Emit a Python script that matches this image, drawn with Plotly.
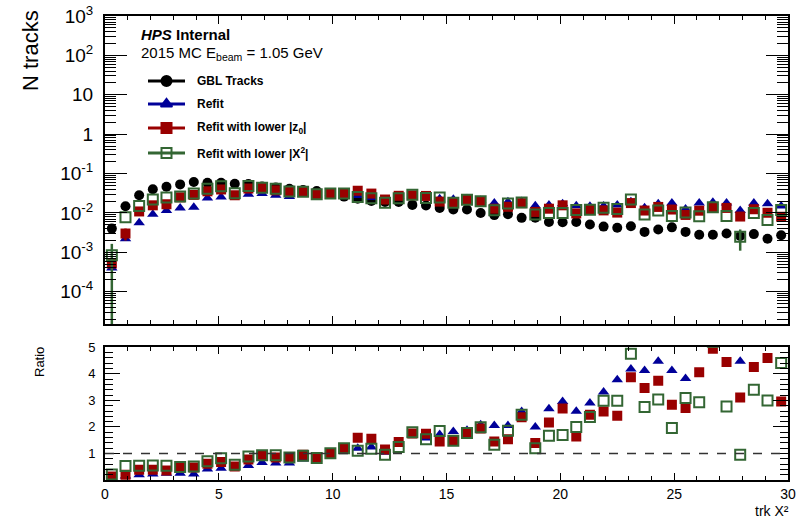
import plotly.graph_objects as go

# ---------------- data ----------------
bin_centers = [0.3, 0.9, 1.5, 2.1, 2.7, 3.3, 3.9, 4.5, 5.1, 5.7,
               6.3, 6.9, 7.5, 8.1, 8.7, 9.3, 9.9, 10.5, 11.1, 11.7,
               12.3, 12.9, 13.5, 14.1, 14.7, 15.3, 15.9, 16.5, 17.1, 17.7,
               18.3, 18.9, 19.5, 20.1, 20.7, 21.3, 21.9, 22.5, 23.1, 23.7,
               24.3, 24.9, 25.5, 26.1, 26.7, 27.3, 27.9, 28.5, 29.1, 29.7]

gbl = [0.0040, 0.0148, 0.028, 0.040, 0.046, 0.053, 0.061, 0.058, 0.058, 0.055,
       0.054, 0.047, 0.044, 0.041, 0.038, 0.036, 0.031, 0.026, 0.023, 0.020,
       0.019, 0.019, 0.016, 0.0155, 0.0134, 0.0122, 0.0122, 0.0100, 0.0088, 0.0093,
       0.0075, 0.0076, 0.0059, 0.0058, 0.0059, 0.0051, 0.0045, 0.0042, 0.0046, 0.0033,
       0.0038, 0.0043, 0.0033, 0.0028, 0.0028, 0.0030, 0.0026, 0.0029, 0.0022, 0.0027]

refit = [0.00040, 0.0022, 0.0056, 0.0092, 0.0115, 0.0133, 0.0140, 0.0238, 0.0255, 0.0264,
         0.0297, 0.0310, 0.0282, 0.0262, 0.0300, 0.0288, 0.0310, 0.0281, 0.0276, 0.0248,
         0.0200, 0.0260, 0.0275, 0.0245, 0.0229, 0.0223, 0.0228, 0.0208, 0.0180, 0.0191,
         0.0194, 0.0152, 0.0158, 0.0172, 0.0153, 0.0148, 0.0149, 0.0159, 0.0192, 0.0136,
         0.0170, 0.0178, 0.0126, 0.0180, 0.0187, 0.0180, 0.0116, 0.0180, 0.0170, 0.0150]

refit_z0 = [0.00052, 0.0030, 0.0109, 0.0156, 0.0166, 0.0249, 0.0287, 0.0354, 0.0394, 0.0281,
            0.0416, 0.0442, 0.0374, 0.0344, 0.0361, 0.0295, 0.0313, 0.0307, 0.0366, 0.0310,
            0.0219, 0.0272, 0.0280, 0.0270, 0.0194, 0.0182, 0.0216, 0.0194, 0.0128, 0.0143,
            0.0177, 0.0106, 0.0128, 0.0156, 0.0097, 0.0125, 0.0116, 0.0102, 0.0178, 0.0115,
            0.0142, 0.0122, 0.0089, 0.0114, 0.0139, 0.0134, 0.0081, 0.0124, 0.0101, 0.0080]

refit_chi2 = [0.00084, 0.0078, 0.0151, 0.0220, 0.0248, 0.0260, 0.0311, 0.0412, 0.0476, 0.0314,
              0.0481, 0.0437, 0.0409, 0.0349, 0.0346, 0.0299, 0.0313, 0.0312, 0.0253, 0.0236,
              0.0181, 0.0236, 0.0288, 0.0239, 0.0248, 0.0181, 0.0216, 0.0199, 0.0117, 0.0173,
              0.0185, 0.0091, 0.0099, 0.0099, 0.0118, 0.0121, 0.0135, 0.0126, 0.0219, 0.0091,
              0.0115, 0.0084, 0.0102, 0.0082, 0.0140, 0.0083, 0.0025, 0.0099, 0.0066, 0.0119]

z0_err = [0.0, 0.0010] + [0.0] * 48
chi2_err_up = [0.0008] + [0.0] * 45 + [0.0013] + [0.0] * 3
chi2_err_down = [0.00083999] + [0.0] * 45 + [0.0014] + [0.0] * 3

ratio_refit = [0.10, 0.15, 0.20, 0.23, 0.25, 0.25, 0.23, 0.41, 0.44, 0.48,
               0.55, 0.66, 0.64, 0.64, 0.79, 0.80, 1.00, 1.08, 1.20, 1.24,
               1.05, 1.37, 1.72, 1.58, 1.71, 1.83, 1.87, 2.08, 2.05, 2.05,
               2.58, 2.00, 2.68, 2.96, 2.59, 2.90, 3.32, 3.78, 4.18, 4.13,
               4.47, 4.13, 3.82, 6.4, 6.7, 6.0, 4.47, 6.2, 7.7, 5.6]

ratio_z0 = [0.13, 0.20, 0.39, 0.39, 0.36, 0.47, 0.47, 0.61, 0.68, 0.51,
            0.77, 0.94, 0.85, 0.84, 0.95, 0.82, 1.01, 1.18, 1.59, 1.55,
            1.15, 1.43, 1.75, 1.74, 1.45, 1.49, 1.77, 1.94, 1.45, 1.54,
            2.36, 1.39, 2.17, 2.69, 1.64, 2.46, 2.58, 2.42, 3.87, 3.47,
            3.74, 2.84, 2.71, 4.06, 4.95, 4.45, 3.11, 4.26, 4.60, 2.96]

ratio_chi2 = [0.21, 0.53, 0.54, 0.55, 0.54, 0.49, 0.51, 0.71, 0.82, 0.57,
              0.89, 0.93, 0.93, 0.85, 0.91, 0.83, 1.01, 1.20, 1.10, 1.18,
              0.95, 1.24, 1.80, 1.54, 1.85, 1.48, 1.77, 1.99, 1.33, 1.86,
              2.46, 1.20, 1.67, 1.70, 2.00, 2.37, 2.99, 2.99, 4.76, 2.75,
              3.03, 1.96, 3.09, 2.93, 5.2, 2.77, 0.95, 3.40, 3.00, 4.41]

series_names = ["GBL Tracks", "Refit", "Refit with lower |z<sub>0</sub>|",
                "Refit with lower |Χ<sup>2</sup>|"]

top_tickvals = [1e-4, 1e-3, 1e-2, 1e-1, 1, 10, 100, 1000]
top_ticktext = ["10<sup>-4</sup>", "10<sup>-3</sup>", "10<sup>-2</sup>", "10<sup>-1</sup>",
                "1", "10", "10<sup>2</sup>", "10<sup>3</sup>"]
ratio_tickvals = [1, 2, 3, 4, 5]
x_tickvals = [0, 5, 10, 15, 20, 25, 30]

# ---------------- style ----------------
FONT = "Liberation Sans, Arial, Helvetica, sans-serif"
BLACK = "#000000"
BLUE = "#000099"
RED = "#990000"
GREEN = "#336633"

W, H = 803, 520
L, R, T, B = 105, 15, 16, 40
PW, PH = W - L - R, H - T - B


def px_x(x):
    return (x - L) / PW


def px_y(y):
    return (H - B - y) / PH


fig = go.Figure()

# ---------------- top panel ----------------
fig.add_trace(go.Scatter(x=bin_centers, y=gbl, mode="markers", xaxis="x", yaxis="y",
                         marker=dict(symbol="circle", size=10, color=BLACK),
                         showlegend=False))
fig.add_trace(go.Scatter(x=bin_centers, y=refit, mode="markers", xaxis="x", yaxis="y",
                         marker=dict(symbol="triangle-up", size=10, color=BLUE),
                         showlegend=False))
fig.add_trace(go.Scatter(x=bin_centers, y=refit_z0, mode="markers", xaxis="x", yaxis="y",
                         marker=dict(symbol="square", size=10, color=RED),
                         error_y=dict(type="data", array=z0_err, color=RED,
                                      thickness=2.5, width=0),
                         showlegend=False))
fig.add_trace(go.Scatter(x=bin_centers, y=refit_chi2, mode="markers", xaxis="x", yaxis="y",
                         marker=dict(symbol="square-open", size=10, color=GREEN,
                                     line=dict(width=2, color=GREEN)),
                         error_y=dict(type="data", array=chi2_err_up,
                                      arrayminus=chi2_err_down, color=GREEN,
                                      thickness=2.5, width=0),
                         showlegend=False))

# ---------------- ratio panel ----------------
fig.add_trace(go.Scatter(x=bin_centers, y=ratio_refit, mode="markers", xaxis="x2", yaxis="y2",
                         marker=dict(symbol="triangle-up", size=10, color=BLUE),
                         showlegend=False))
fig.add_trace(go.Scatter(x=bin_centers, y=ratio_z0, mode="markers", xaxis="x2", yaxis="y2",
                         marker=dict(symbol="square", size=10, color=RED),
                         showlegend=False))
fig.add_trace(go.Scatter(x=bin_centers, y=ratio_chi2, mode="markers", xaxis="x2", yaxis="y2",
                         marker=dict(symbol="square-open", size=10, color=GREEN,
                                     line=dict(width=2, color=GREEN)),
                         showlegend=False))

# ---------------- hand-made ROOT-style legend (pixel overlay axis) ----------------
leg_y = [81, 104, 128, 153]
leg_colors = [BLACK, BLUE, RED, GREEN]
leg_symbols = ["circle", "triangle-up", "square", "square-open"]
for yy, col, sym, name in zip(leg_y, leg_colors, leg_symbols, series_names):
    fig.add_trace(go.Scatter(x=[148, 185], y=[yy, yy], mode="lines", xaxis="x3", yaxis="y3",
                             line=dict(color=col, width=3), showlegend=False,
                             hoverinfo="skip"))
    fig.add_trace(go.Scatter(x=[166.5], y=[yy], mode="markers", xaxis="x3", yaxis="y3",
                             marker=dict(symbol=sym, size=10, color=col,
                                         line=dict(width=2, color=col)),
                             showlegend=False, hoverinfo="skip"))
    fig.add_annotation(x=px_x(195), y=px_y(yy), xref="paper", yref="paper",
                       text="<b>" + name + "</b>", showarrow=False,
                       xanchor="left", yanchor="middle",
                       font=dict(family=FONT, size=12, color=BLACK))

fig.add_annotation(x=px_x(139), y=px_y(34), xref="paper", yref="paper",
                   text="<b><i>HPS</i> Internal</b>", showarrow=False,
                   xanchor="left", yanchor="middle",
                   font=dict(family=FONT, size=15, color=BLACK))
fig.add_annotation(x=px_x(139), y=px_y(53), xref="paper", yref="paper",
                   text="2015 MC E<sub>beam</sub> = 1.05 GeV", showarrow=False,
                   xanchor="left", yanchor="middle",
                   font=dict(family=FONT, size=15, color=BLACK))

# axis titles
fig.add_annotation(x=px_x(30), y=px_y(51), xref="paper", yref="paper",
                   text="N tracks", textangle=-90, showarrow=False,
                   xanchor="center", yanchor="middle",
                   font=dict(family=FONT, size=22, color=BLACK))
fig.add_annotation(x=px_x(39), y=px_y(362), xref="paper", yref="paper",
                   text="Ratio", textangle=-90, showarrow=False,
                   xanchor="center", yanchor="middle",
                   font=dict(family=FONT, size=13, color=BLACK))
fig.add_annotation(x=px_x(790), y=px_y(520), xref="paper", yref="paper",
                   text="trk Χ²", showarrow=False,
                   xanchor="right", yanchor="bottom", borderpad=0,
                   font=dict(family=FONT, size=14, color=BLACK))

# dashed reference line at ratio = 1
fig.add_shape(type="line", xref="x2", yref="y2", x0=0, x1=30, y0=1, y1=1,
              line=dict(color="#333333", width=1.5, dash="dash"))

# minor tick values for log axis
minor_log = [m * 10 ** e for e in range(-5, 3) for m in range(2, 10)]

top_dom = [px_y(324), 1.0]
rat_dom = [0.0, px_y(347.3)]

fig.update_layout(
    template="none",
    width=W, height=H,
    margin=dict(l=L, r=R, t=T, b=B, autoexpand=False),
    paper_bgcolor="white", plot_bgcolor="white",
    font=dict(family=FONT, color=BLACK),
    showlegend=False,
    xaxis=dict(domain=[0, 1], anchor="y", range=[0, 30], showticklabels=False,
               automargin=False,
               tickvals=x_tickvals, ticks="inside", ticklen=8, tickcolor=BLACK,
               minor=dict(dtick=1, ticks="inside", ticklen=4, tickcolor=BLACK, showgrid=False),
               showline=True, linecolor=BLACK, linewidth=2, mirror="ticks",
               showgrid=False, zeroline=False),
    yaxis=dict(domain=top_dom, anchor="x", type="log", range=[-4.82, 3],
               automargin=False,
               tickvals=top_tickvals, ticktext=top_ticktext,
               ticks="inside", ticklen=22, tickcolor=BLACK,
               minor=dict(tickmode="array", tickvals=minor_log, ticks="inside",
                          ticklen=11, tickcolor=BLACK, showgrid=False),
               tickfont=dict(family=FONT, size=19, color=BLACK),
               ticklabelstandoff=6,
               showline=True, linecolor=BLACK, linewidth=2, mirror="ticks",
               showgrid=False, zeroline=False),
    xaxis2=dict(domain=[0, 1], anchor="y2", range=[0, 30],
                automargin=False,
                tickvals=x_tickvals, ticks="inside", ticklen=7, tickcolor=BLACK,
                minor=dict(dtick=1, ticks="inside", ticklen=4, tickcolor=BLACK, showgrid=False),
                tickfont=dict(family=FONT, size=14, color=BLACK),
                showline=True, linecolor=BLACK, linewidth=2, mirror="ticks",
                showgrid=False, zeroline=False),
    yaxis2=dict(domain=rat_dom, anchor="x2", range=[0, 5],
                automargin=False,
                tickvals=ratio_tickvals, ticks="inside", ticklen=15, tickcolor=BLACK,
                minor=dict(dtick=0.2, ticks="inside", ticklen=8, tickcolor=BLACK, showgrid=False),
                tickfont=dict(family=FONT, size=13, color=BLACK),
                ticklabelstandoff=5,
                showline=True, linecolor=BLACK, linewidth=2, mirror="ticks",
                showgrid=False, zeroline=False),
    xaxis3=dict(overlaying="x", anchor="y3", range=[L, W - R], visible=False,
                automargin=False, fixedrange=True),
    yaxis3=dict(overlaying="y", anchor="x3", range=[324, T], visible=False,
                automargin=False, fixedrange=True),
)

fig.write_html("out.html")
